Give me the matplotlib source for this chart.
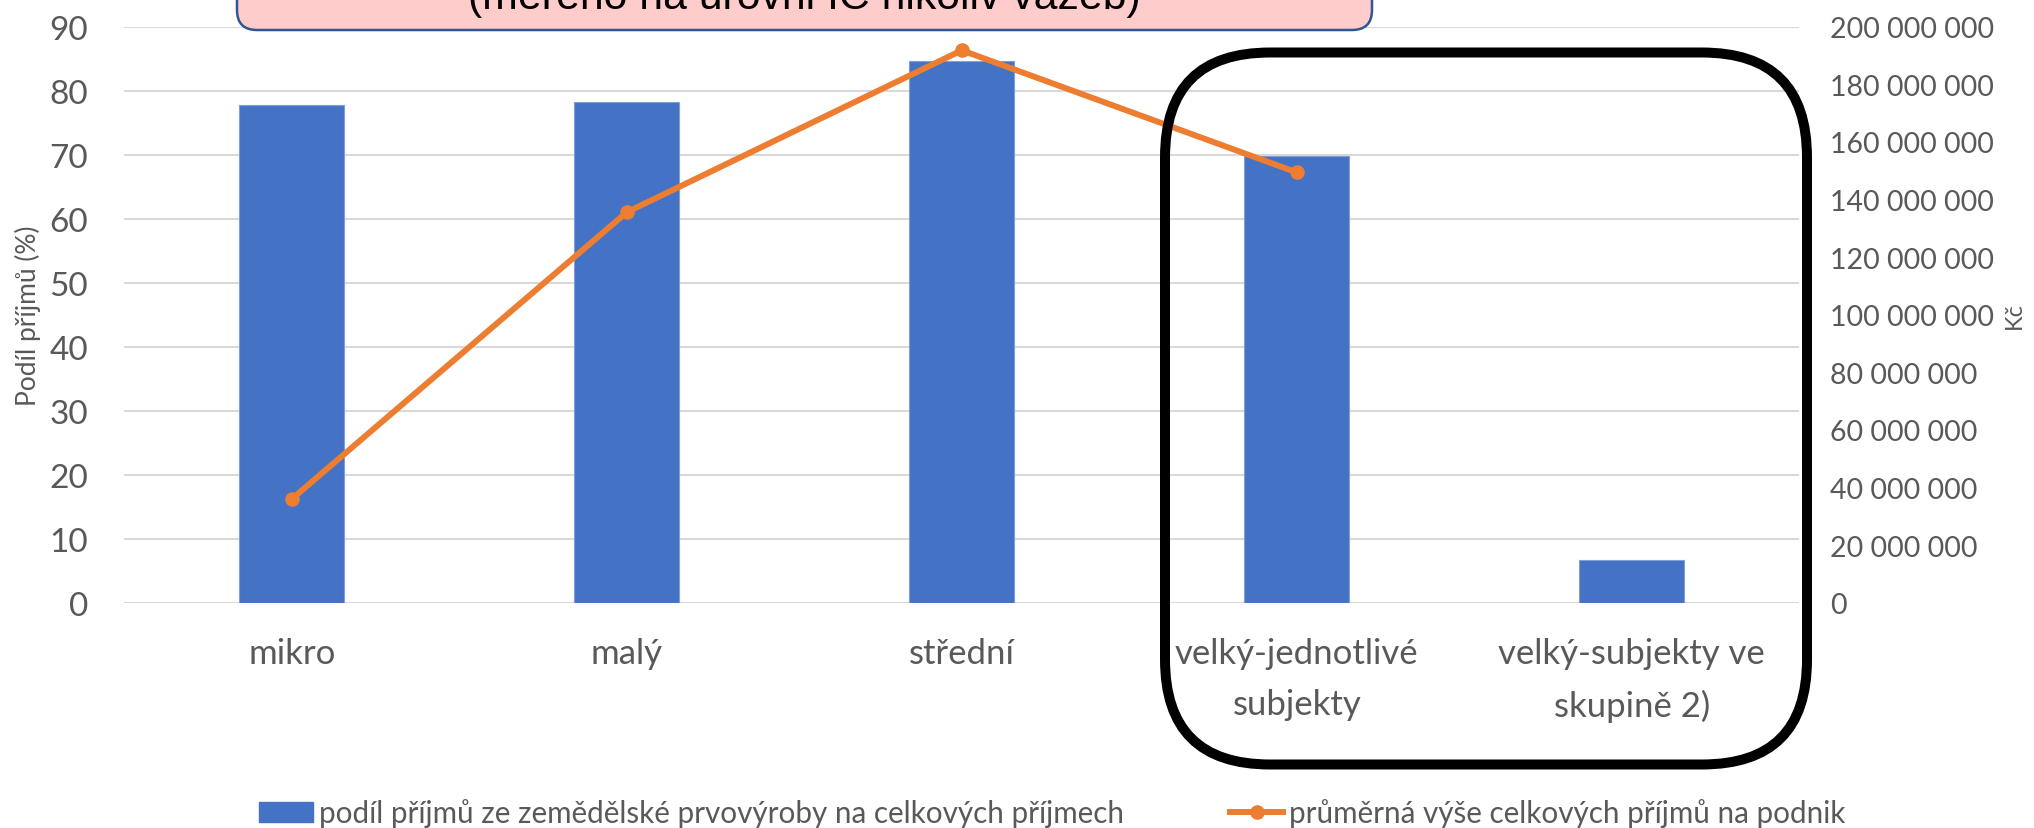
import matplotlib
matplotlib.use("Agg")
import matplotlib.pyplot as plt
from matplotlib.patches import FancyBboxPatch, Patch
from matplotlib.lines import Line2D
from matplotlib.ticker import FuncFormatter, MultipleLocator
from matplotlib.transforms import IdentityTransform

# data
categories = ["mikro", "malý", "střední", "velký-jednotlivé\nsubjekty", "velký-subjekty ve\nskupině 2)"]
share_pct = [77.7, 78.2, 84.7, 69.8, 6.7]
avg_income = [36.0e6, 135.6e6, 191.8e6, 149.4e6]

bar_label = "podíl příjmů ze zemědělské prvovýroby na celkových příjmech"
line_label = "průměrná výše celkových příjmů na podnik"
title_text = "(měřeno na úrovni IČ nikoliv vazeb)"

BLUE = "#4472C4"
ORANGE = "#ED7D31"
GRAY = "#595959"
GRID = "#D9D9D9"

plt.rcParams["font.family"] = ["Lato", "DejaVu Sans"]

W, H = 2034, 829
fig = plt.figure(figsize=(W / 100, H / 100), dpi=100)
ax = fig.add_axes([124.3 / W, 1 - 603.7 / H, 1675 / W, 576 / H])

x = list(range(len(categories)))
ax.bar(x, share_pct, width=0.313, color=BLUE, edgecolor="#7F9FD6", linewidth=0.8, zorder=2)
ax.set_xlim(-0.5, len(categories) - 0.5)
ax.set_ylim(0, 90)
ax.yaxis.set_major_locator(MultipleLocator(10))
ax.set_axisbelow(True)
ax.grid(axis="y", color=GRID, linewidth=1.5)
for s in ax.spines.values():
    s.set_visible(False)
ax.set_xticks(x)
ax.set_xticklabels(categories, linespacing=1.7)
ax.tick_params(axis="x", length=0, pad=25, labelsize=25, labelcolor=GRAY)
ax.tick_params(axis="y", length=0, pad=26, labelsize=24, labelcolor=GRAY)
ax.set_ylabel("Podíl příjmů (%)", fontsize=19, color=GRAY, va="center")
ax.yaxis.set_label_coords((28 - 124.3) / 1675, 0.5)

ax2 = ax.twinx()
ax2.plot(x[:len(avg_income)], avg_income, color=ORANGE, linewidth=4.3,
         marker="o", markersize=9.5, solid_capstyle="round")
ax2.set_ylim(0, 200e6)
ax2.yaxis.set_major_locator(MultipleLocator(20e6))
ax2.yaxis.set_major_formatter(FuncFormatter(lambda v, p: f"{v:,.0f}".replace(",", " ")))
for s in ax2.spines.values():
    s.set_visible(False)
ax2.tick_params(axis="y", length=0, pad=22, labelsize=20.5, labelcolor=GRAY)
ax2.set_ylabel("Kč", fontsize=17, color=GRAY, rotation=90, va="center")
ax2.yaxis.set_label_coords((2014 - 124.3) / 1675, 0.5)

handles = [
    Patch(facecolor=BLUE, edgecolor=BLUE),
    Line2D([0], [0], color=ORANGE, linewidth=4.3, marker="o", markersize=9.5),
]
fig.legend(handles, [bar_label, line_label], loc="center",
           bbox_to_anchor=(0.5175, 15 / H), ncol=2, frameon=False,
           fontsize=21.3, labelcolor=GRAY, handlelength=1.8, handletextpad=0.2,
           columnspacing=3.6)

# pink title box, mostly cut off at the top
pink = FancyBboxPatch((237, H - 31), 1135, 150,
                      boxstyle="round,pad=0,rounding_size=20",
                      facecolor="#FFCCCC", edgecolor="#2F5597", linewidth=1.8,
                      transform=IdentityTransform(), zorder=10)
fig.add_artist(pink)
fig.text(804 / W, (H - 9) / H, title_text, ha="center", va="baseline",
         fontsize=30.8, family="Liberation Sans", color="black", zorder=11)

# black rounded highlight around the large-enterprise categories
frame = FancyBboxPatch((1165, H - 765.5), 642, 712,
                       boxstyle="round,pad=0,rounding_size=105",
                       facecolor="none", edgecolor="black", linewidth=7.2,
                       transform=IdentityTransform(), zorder=12)
fig.add_artist(frame)

fig.savefig("out.png", dpi=100)
